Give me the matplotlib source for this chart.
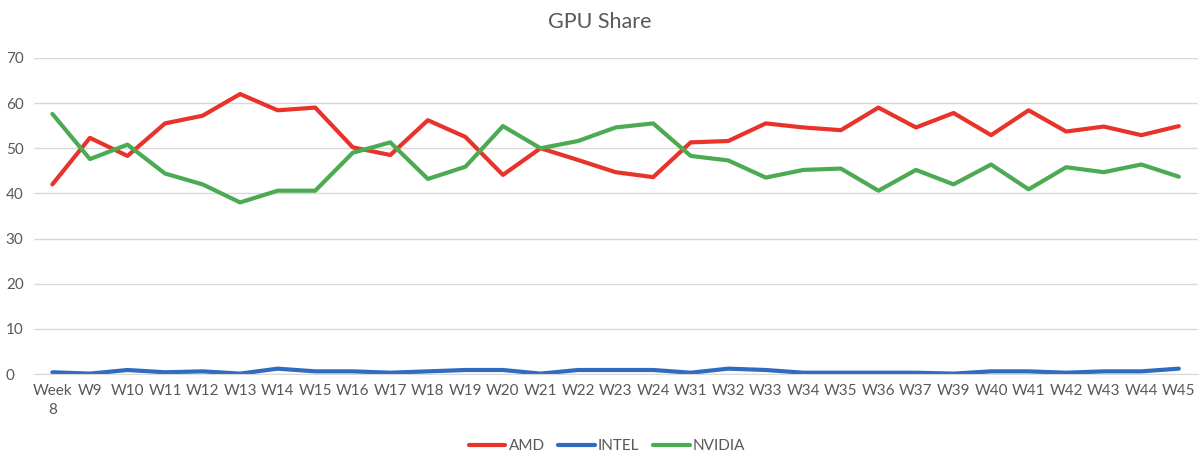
import matplotlib
matplotlib.use("Agg")
import matplotlib.pyplot as plt

weeks = ["Week\n8", "W9", "W10", "W11", "W12", "W13", "W14", "W15", "W16", "W17",
         "W18", "W19", "W20", "W21", "W22", "W23", "W24", "W31", "W32", "W33",
         "W34", "W35", "W36", "W37", "W39", "W40", "W41", "W42", "W43", "W44", "W45"]

amd = [42.0, 52.3, 48.3, 55.5, 57.2, 62.0, 58.4, 59.0, 50.2, 48.5,
       56.2, 52.5, 44.1, 50.0, 47.4, 44.7, 43.6, 51.3, 51.6, 55.5,
       54.6, 54.0, 59.0, 54.6, 57.8, 52.9, 58.4, 53.7, 54.8, 52.9, 54.9]

intel = [0.4, 0.1, 0.9, 0.4, 0.6, 0.1, 1.2, 0.6, 0.6, 0.3,
         0.6, 0.9, 0.9, 0.1, 0.9, 0.9, 0.9, 0.3, 1.2, 0.9,
         0.3, 0.3, 0.3, 0.3, 0.1, 0.6, 0.6, 0.3, 0.6, 0.6, 1.2]

nvidia = [57.6, 47.6, 50.8, 44.4, 42.0, 38.0, 40.6, 40.6, 49.0, 51.3,
          43.2, 45.9, 54.9, 50.0, 51.6, 54.6, 55.5, 48.3, 47.3, 43.5,
          45.2, 45.5, 40.6, 45.2, 42.0, 46.4, 40.9, 45.8, 44.7, 46.4, 43.7]

plt.rcParams['font.family'] = ['Lato', 'DejaVu Sans']
grey = "#595959"

fig = plt.figure(figsize=(12, 4.67), dpi=100)
ax = fig.add_axes([0.028, 0.199, 0.97, 0.677])

x = range(len(weeks))
ax.plot(x, amd, color="#E8332A", lw=3, label="AMD", solid_capstyle="round")
ax.plot(x, intel, color="#2F6BBF", lw=3, label="INTEL", solid_capstyle="round")
ax.plot(x, nvidia, color="#4BAA52", lw=3, label="NVIDIA", solid_capstyle="round")

ax.set_xlim(-0.5, len(weeks) - 0.5)
ax.set_ylim(0, 70)
ax.set_yticks(range(0, 71, 10))
ax.set_xticks(list(x))
ax.set_xticklabels(weeks, fontsize=11, color=grey, linespacing=1.5)
ax.tick_params(axis="y", labelsize=11, labelcolor=grey, length=0, pad=20)
ax.tick_params(axis="x", length=0, pad=7)
for lbl in ax.get_yticklabels():
    lbl.set_horizontalalignment("left")
ax.grid(axis="y", color="#d9d9d9", lw=1)
ax.set_axisbelow(True)
for s in ["top", "right", "left"]:
    ax.spines[s].set_visible(False)
ax.spines["bottom"].set_color("#d9d9d9")

fig.suptitle("GPU Share", fontsize=15.5, color=grey, y=0.975)
fig.legend(loc="lower center", ncol=3, frameon=False, fontsize=11,
           labelcolor=grey, bbox_to_anchor=(0.506, 0.0), handlelength=2.4,
           columnspacing=0.9, handletextpad=0.2)

fig.savefig("out.png", dpi=100)
